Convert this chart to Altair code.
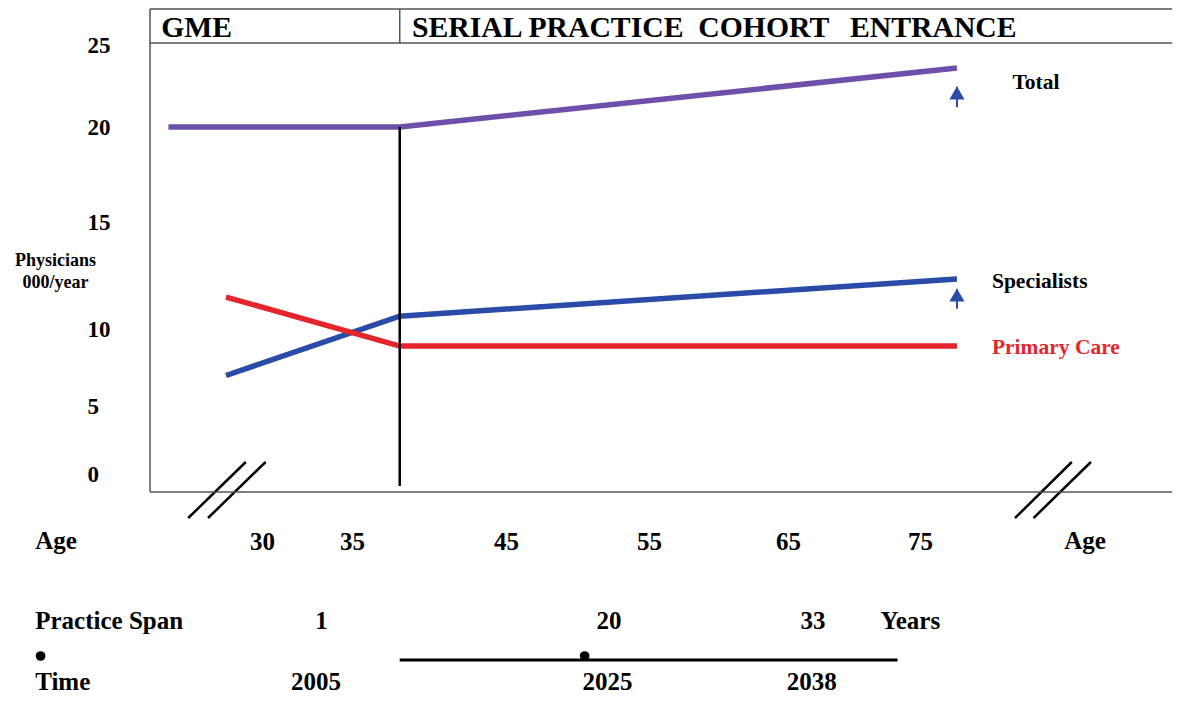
import altair as alt
import pandas as pd

# ---------------- data ----------------
SERIES = ["Total", "Specialists", "Primary Care"]
TOTAL_AGES = [24.8, 38.1, 77.8]
TOTAL_VALUES = [20.0, 20.0, 23.6]
SPEC_AGES = [28.0, 38.1, 77.8]
SPEC_VALUES = [7.0, 10.6, 12.35]
PRIM_AGES = [28.0, 38.1, 77.8]
PRIM_VALUES = [11.5, 8.9, 8.9]

Y_TICKS = [0, 5, 10, 15, 20, 25]
AGE_TICKS = [30, 35, 45, 55, 65, 75]

# series labels at the right
LABEL_TEXT = ["Total", "Specialists", "Primary Care"]
LABEL_AGES = [82.0, 80.45, 80.45]
LABEL_VALUES = [22.7, 12.2, 8.8]

# small "rising" arrows at the end of Total and Specialists
ARROW_SERIES = ["Total", "Specialists"]
ARROW_AGE = [77.8, 77.8]
ARROW_TAIL = [21.2, 10.95]
ARROW_TIP = [22.45, 11.88]

# cohort-entrance marker (vertical line) and header split
ENTRANCE_AGE = 38.1
ENTRANCE_TOP = 20.0
ENTRANCE_BOTTOM = -0.85
HEADER_TEXT = ["GME", "SERIAL PRACTICE\u00a0 COHORT\u2002\u2009ENTRANCE"]
HEADER_AGES = [24.4, 38.9]

# axis-break marks "//"
BREAK_X1 = [25.9, 27.0, 82.2, 83.6]
BREAK_X2 = [29.1, 30.2, 86.5, 87.95]
BREAK_Y1 = [-3.2, -3.2, -3.2, -3.2]
BREAK_Y2 = [0.92, 0.92, 0.92, 0.92]

# bottom rows
ROW_HEADERS = ["Age", "Practice Span", "Time"]
ROW_HEADER_AGE = 17.4
RIGHT_AGE_LABEL_AGE = 87.5
SPAN_LABELS = ["1", "20", "33"]
SPAN_AGES = [33.3, 52.2, 66.9]
YEARS_AGE = 72.0
TIME_LABELS = ["2005", "2025", "2038"]
TIME_AGES = [33.0, 52.1, 66.8]
TIMELINE_START = 38.1
TIMELINE_END = 73.3
DOT_AGES = [17.7, 50.5]

# ---------------- layout / style ----------------
SERIF = "Liberation Serif"
COLORS = ["#6E50AA", "#2A4BA8", "#E4262C"]
BLUE = "#2A4BA8"
RED = "#E4262C"
FRAME = "#555555"

LEFT_PAGE, TOP_PAGE = 150, 9
X_RANGE = [p - LEFT_PAGE for p in [262, 352, 506, 649, 788, 920]]
Y_RANGE = [p - TOP_PAGE for p in [474.5, 406.5, 329, 222.5, 127, 45]]
# layout rows: 0 frame top, 1 header text, 2 header rule, 3 frame bottom,
# 4 Age row, 5 Practice Span row, 6 timeline row, 7 Time row
ROWS = [0, 1, 2, 3, 4, 5, 6, 7]
ROW_RANGE = [p - TOP_PAGE for p in [9, 37, 43, 492, 549, 629, 660, 690]]

XS = alt.Scale(domain=AGE_TICKS, range=X_RANGE, nice=False, zero=False)
YS = alt.Scale(domain=Y_TICKS, range=Y_RANGE, nice=False, zero=False)
RS = alt.Scale(domain=ROWS, range=ROW_RANGE, nice=False, zero=False)

# ---------------- tables ----------------
lines_df = pd.DataFrame({
    "series": ["Total"] * 3 + ["Specialists"] * 3 + ["Primary Care"] * 3,
    "age": TOTAL_AGES + SPEC_AGES + PRIM_AGES,
    "value": TOTAL_VALUES + SPEC_VALUES + PRIM_VALUES,
})
labels_df = pd.DataFrame({"label": LABEL_TEXT, "age": LABEL_AGES, "value": LABEL_VALUES})
arrows_df = pd.DataFrame({"series": ARROW_SERIES, "age": ARROW_AGE,
                          "tail": ARROW_TAIL, "tip": ARROW_TIP})
entrance_df = pd.DataFrame({"age": [ENTRANCE_AGE], "top": [ENTRANCE_TOP],
                            "bottom": [ENTRANCE_BOTTOM]})
breaks_df = pd.DataFrame({"x1": BREAK_X1, "x2": BREAK_X2, "y1": BREAK_Y1, "y2": BREAK_Y2})

header_df = pd.DataFrame({"label": HEADER_TEXT, "age": HEADER_AGES, "row": [1, 1]})
hlines_df = pd.DataFrame({"row": [0, 2, 3]})          # frame top, header rule, frame bottom
left_edge_df = pd.DataFrame({"r1": [0], "r2": [3]})
divider_df = pd.DataFrame({"age": [ENTRANCE_AGE], "r1": [0], "r2": [2]})

left_text_df = pd.DataFrame({
    "label": ROW_HEADERS + ["Years"],
    "age": [ROW_HEADER_AGE] * 3 + [YEARS_AGE],
    "row": [4, 5, 7, 5],
})
center_text_df = pd.DataFrame({
    "label": ["Age"] + SPAN_LABELS + TIME_LABELS,
    "age": [RIGHT_AGE_LABEL_AGE] + SPAN_AGES + TIME_AGES,
    "row": [4] + [5] * 3 + [7] * 3,
})
timeline_df = pd.DataFrame({"a1": [TIMELINE_START], "a2": [TIMELINE_END], "row": [6]})
dots_df = pd.DataFrame({"age": DOT_AGES, "row": [6, 6]})

# ---------------- axes ----------------
x_axis = alt.Axis(values=AGE_TICKS, title=None, domain=False, ticks=False, tickSize=0,
                  grid=False, labelFont=SERIF, labelFontWeight="bold", labelFontSize=25,
                  labelColor="black", labelPadding=57, labelBaseline="alphabetic",
                  labelFlush=False, labelOverlap=False, labelAlign="center")
y_axis = alt.Axis(values=Y_TICKS, domain=False, ticks=False, tickSize=0, grid=False,
                  labelFont=SERIF, labelFontWeight="bold", labelFontSize=23,
                  labelColor="black", labelAlign="left", labelBaseline="middle",
                  labelPadding=63, labelFlush=False, labelOverlap=False,
                  title=["Physicians", "000/year"], titleFont=SERIF,
                  titleFontWeight="bold", titleFontSize=18, titleColor="black",
                  titleAngle=0, titleAlign="center", titleBaseline="alphabetic",
                  titleX=55 - LEFT_PAGE, titleY=265 - TOP_PAGE, titleLineHeight=22)


def X(field):
    return alt.X(field, scale=XS, axis=x_axis)


def Y(field):
    return alt.Y(field, scale=YS, axis=y_axis)


def R(field):
    return alt.Y(field, scale=RS, axis=None)


# ---------------- main (value) layers ----------------
lines = alt.Chart(lines_df).mark_line(strokeWidth=5.5).encode(
    x=X("age:Q"),
    y=Y("value:Q"),
    color=alt.Color("series:N", scale=alt.Scale(domain=SERIES, range=COLORS), legend=None),
    detail="series:N",
    order="age:Q",
)

entrance = alt.Chart(entrance_df).mark_rule(color="black", strokeWidth=2.5).encode(
    x=X("age:Q"), y=Y("top:Q"), y2="bottom:Q",
)

breaks = alt.Chart(breaks_df).mark_rule(color="black", strokeWidth=2.5).encode(
    x=X("x1:Q"), x2="x2:Q", y=Y("y1:Q"), y2="y2:Q",
)

series_labels = alt.Chart(labels_df).mark_text(
    font=SERIF, fontWeight="bold", fontSize=21.5, align="left", baseline="middle"
).encode(
    x=X("age:Q"),
    y=Y("value:Q"),
    text="label:N",
    color=alt.condition(alt.datum.label == "Primary Care", alt.value(RED), alt.value("black")),
)

arrow_shafts = alt.Chart(arrows_df).mark_rule(color=BLUE, strokeWidth=2).encode(
    x=X("age:Q"), y=Y("tail:Q"), y2="tip:Q",
)
arrow_heads = alt.Chart(arrows_df).mark_point(
    shape="triangle-up", filled=True, size=230, color=BLUE, opacity=1, yOffset=6
).encode(
    x=X("age:Q"), y=Y("tip:Q"),
)

main = alt.layer(lines, entrance, breaks, series_labels, arrow_shafts, arrow_heads)

# ---------------- layout-row layers (frame, header and bottom rows) ----------------
hlines = alt.Chart(hlines_df).mark_rule(color=FRAME, strokeWidth=1.5).encode(
    y=R("row:Q"),
)
left_edge = alt.Chart(left_edge_df).mark_rule(color=FRAME, strokeWidth=1.5).encode(
    x=alt.value(0), y=R("r1:Q"), y2="r2:Q",
)
divider = alt.Chart(divider_df).mark_rule(color=FRAME, strokeWidth=1.5).encode(
    x=X("age:Q"), y=R("r1:Q"), y2="r2:Q",
)
header_text = alt.Chart(header_df).mark_text(
    font=SERIF, fontWeight="bold", fontSize=29.7, align="left", baseline="alphabetic",
    color="black"
).encode(x=X("age:Q"), y=R("row:Q"), text="label:N")
left_text = alt.Chart(left_text_df).mark_text(
    font=SERIF, fontWeight="bold", fontSize=25, align="left", baseline="alphabetic",
    color="black"
).encode(x=X("age:Q"), y=R("row:Q"), text="label:N")
center_text = alt.Chart(center_text_df).mark_text(
    font=SERIF, fontWeight="bold", fontSize=25, align="center", baseline="alphabetic",
    color="black"
).encode(x=X("age:Q"), y=R("row:Q"), text="label:N")
timeline = alt.Chart(timeline_df).mark_rule(color="black", strokeWidth=3).encode(
    x=X("a1:Q"), x2="a2:Q", y=R("row:Q"),
)
dots = alt.Chart(dots_df).mark_circle(color="black", size=95, opacity=1, yOffset=-4).encode(
    x=X("age:Q"), y=R("row:Q"),
)

layout = alt.layer(hlines, left_edge, divider, header_text, left_text, center_text,
                   timeline, dots)

# canvas 1164 x 688 so the page (with its 8px margins) fits the 1180 x 712 window
chart = alt.layer(main, layout).resolve_scale(y="independent").properties(
    width=1022,
    height=483,
    autosize=alt.AutoSizeParams(type="none"),
    padding={"left": 142, "top": 1, "right": 0, "bottom": 204},
    background="white",
).configure_view(
    stroke=None
)

chart.save("out.html", embed_options={"renderer": "svg", "actions": False})
